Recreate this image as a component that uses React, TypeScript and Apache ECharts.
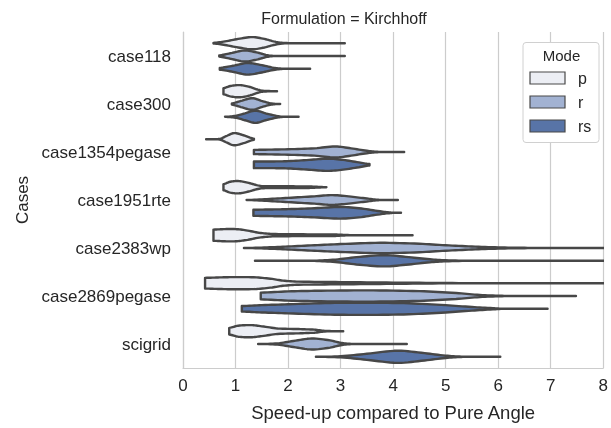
import React, { useEffect, useRef } from "react";
import * as echarts from "echarts";

const categories = ["case118", "case300", "case1354pegase", "case1951rte", "case2383wp", "case2869pegase", "scigrid"];
const modes = ["p", "r", "rs"];
const modeColors = ["#eceef4", "#a2b2d2", "#5874a7"];
const xTicks = [0, 1, 2, 3, 4, 5, 6, 7, 8];

// density profiles: [speed-up, relative half-width]
const pProfiles: number[][][] = [
  [[0.58, 0.05], [0.8, 0.3], [1.05, 0.7], [1.32, 1.0], [1.55, 0.7], [1.75, 0.25], [1.9, 0.05], [2.2, 0], [3.08, 0]],
  [[0.77, 0.5], [0.9, 0.85], [1.07, 1.0], [1.25, 0.75], [1.45, 0.2], [1.55, 0.05], [1.79, 0]],
  [[0.44, 0], [0.7, 0.05], [0.82, 0.5], [0.97, 1.0], [1.15, 0.65], [1.35, 0.1]],
  [[0.77, 0.5], [0.9, 0.9], [1.07, 1.0], [1.25, 0.7], [1.45, 0.25], [1.6, 0.15], [2.0, 0.15], [2.4, 0.12], [2.6, 0.05], [2.73, 0]],
  [[0.58, 0.92], [0.8, 1.0], [1.0, 1.0], [1.2, 0.8], [1.45, 0.4], [1.7, 0.2], [2.2, 0.15], [2.9, 0.12], [3.1, 0.03], [3.4, 0], [4.37, 0]],
  [[0.42, 0.88], [0.7, 0.95], [1.0, 1.0], [1.4, 0.95], [1.7, 0.7], [1.9, 0.42], [2.2, 0.25], [3.0, 0.18], [4.0, 0.1], [5.0, 0.03], [6.0, 0], [9.5, 0]],
  [[0.88, 0.55], [1.05, 0.9], [1.29, 1.0], [1.5, 0.8], [1.8, 0.45], [2.2, 0.35], [2.5, 0.25], [2.7, 0.05], [3.05, 0]],
];
const rProfiles: number[][][] = [
  [[0.69, 0.1], [0.9, 0.45], [1.17, 0.9], [1.4, 0.6], [1.6, 0.15], [1.75, 0], [3.08, 0]],
  [[0.93, 0.1], [1.1, 0.5], [1.32, 0.95], [1.5, 0.5], [1.68, 0.1], [1.85, 0]],
  [[1.35, 0.35], [1.5, 0.37], [2.0, 0.45], [2.5, 0.6], [2.9, 0.9], [3.2, 0.6], [3.5, 0.2], [3.7, 0.03], [3.9, 0], [4.21, 0]],
  [[1.21, 0], [1.6, 0.15], [2.0, 0.35], [2.5, 0.6], [2.85, 0.8], [3.2, 0.55], [3.5, 0.25], [3.7, 0.05], [3.85, 0], [4.09, 0]],
  [[1.16, 0], [1.6, 0.1], [2.0, 0.25], [2.5, 0.45], [3.0, 0.65], [3.75, 0.85], [4.5, 0.7], [5.0, 0.45], [5.5, 0.25], [6.0, 0.1], [6.5, 0.03], [7.0, 0], [9.5, 0]],
  [[1.48, 0.55], [2.0, 0.75], [2.5, 0.85], [3.5, 0.92], [4.5, 0.8], [5.2, 0.5], [5.6, 0.2], [6.0, 0.05], [6.3, 0], [7.48, 0]],
  [[1.43, 0], [1.8, 0.1], [2.1, 0.5], [2.45, 0.9], [2.8, 0.6], [3.0, 0.2], [3.2, 0.02], [3.4, 0], [4.26, 0]],
];
const rsProfiles: number[][][] = [
  [[0.7, 0.15], [0.95, 0.5], [1.23, 0.95], [1.5, 0.6], [1.75, 0.15], [1.95, 0], [2.42, 0]],
  [[0.8, 0], [1.0, 0.15], [1.15, 0.5], [1.38, 1.0], [1.6, 0.5], [1.82, 0.1], [1.95, 0], [2.2, 0]],
  [[1.35, 0.55], [1.7, 0.55], [2.0, 0.6], [2.4, 0.8], [2.75, 1.0], [3.05, 0.8], [3.35, 0.4], [3.55, 0.12]],
  [[1.34, 0.5], [1.7, 0.55], [2.0, 0.6], [2.5, 0.75], [3.0, 0.95], [3.4, 0.7], [3.75, 0.25], [3.95, 0.05], [4.05, 0], [4.15, 0]],
  [[1.37, 0], [2.5, 0.02], [2.9, 0.2], [3.3, 0.6], [3.83, 0.92], [4.3, 0.6], [4.7, 0.25], [5.0, 0.08], [5.5, 0], [9.5, 0]],
  [[1.12, 0.45], [1.5, 0.6], [2.0, 0.75], [2.8, 0.95], [3.5, 1.0], [4.3, 0.9], [5.0, 0.6], [5.5, 0.3], [5.9, 0.1], [6.1, 0], [6.94, 0]],
  [[2.53, 0], [3.0, 0.1], [3.5, 0.5], [4.09, 1.0], [4.6, 0.6], [5.0, 0.2], [5.3, 0.03], [5.5, 0], [6.04, 0]],
];
const allProfiles = [pProfiles, rProfiles, rsProfiles];

const TEXT = "#262626";
const FONT = "Liberation Sans, Arial, sans-serif";

function smoothProfile(prof: number[][]): number[][] {
  const out: number[][] = [];
  const n = prof.length;
  for (let i = 0; i < n - 1; i++) {
    const p0 = prof[Math.max(0, i - 1)];
    const p1 = prof[i];
    const p2 = prof[i + 1];
    const p3 = prof[Math.min(n - 1, i + 2)];
    const steps = 8;
    for (let s = 0; s < steps; s++) {
      const t = s / steps;
      const x = p1[0] + (p2[0] - p1[0]) * t;
      const t2 = t * t, t3 = t2 * t;
      let w = 0.5 * (2 * p1[1] + (-p0[1] + p2[1]) * t + (2 * p0[1] - 5 * p1[1] + 4 * p2[1] - p3[1]) * t2 + (-p0[1] + 3 * p1[1] - 3 * p2[1] + p3[1]) * t3);
      if (p1[1] === 0 && p2[1] === 0) w = 0;
      w = Math.max(0, Math.min(1.05, w));
      out.push([x, w]);
    }
  }
  out.push(prof[n - 1]);
  return out;
}

export default function App() {
  const ref = useRef<HTMLDivElement>(null);
  useEffect(() => {
    if (!ref.current) return;
    const chart = echarts.init(ref.current, null, { renderer: "svg" });
    const series = modes.map((m, mi) => ({
      type: "custom",
      name: m,
      clip: true,
      data: categories.map((_, ci) => [ci]),
      renderItem: (params: any, api: any) => {
        const ci = params.dataIndex;
        const prof = smoothProfile(allProfiles[mi][ci]);
        const band = api.size([0, 1])[1];
        const slot = (band * 0.8) / 3;
        const offset = (mi - 1) * slot;
        const half = slot / 2 - 0.3;
        const top: number[][] = [];
        const bottom: number[][] = [];
        prof.forEach(([x, w]) => {
          const c = api.coord([x, ci]);
          const cy = c[1] + offset;
          top.push([c[0], cy - w * half]);
          bottom.push([c[0], cy + w * half]);
        });
        const pts = top.concat(bottom.reverse());
        return {
          type: "polygon",
          shape: { points: pts },
          style: { fill: modeColors[mi], stroke: "#474747", lineWidth: 2.4, lineJoin: "round" },
        };
      },
    }));
    const legendItems: any[] = [];
    modes.forEach((m, i) => {
      legendItems.push({
        type: "rect",
        shape: { x: 530, y: 72 + i * 24, width: 35, height: 12 },
        style: { fill: modeColors[i], stroke: "#494949", lineWidth: 1.2 },
      });
      legendItems.push({
        type: "text",
        style: { x: 578, y: 78 + i * 24, text: m, font: `16px ${FONT}`, fill: TEXT, verticalAlign: "middle", align: "left" },
      });
    });
    chart.setOption({
      animation: false,
      title: {
        text: "Formulation = Kirchhoff",
        left: 339,
        top: 5,
        textAlign: "center",
        textStyle: { fontFamily: FONT, fontSize: 16, fontWeight: "normal", color: TEXT },
      },
      grid: { left: 183, right: 3, top: 32, bottom: 60, containLabel: false },
      xAxis: {
        type: "value",
        min: 0,
        max: 8,
        interval: 1,
        data: xTicks,
        name: "Speed-up compared to Pure Angle",
        nameLocation: "middle",
        nameGap: 35,
        nameTextStyle: { fontFamily: FONT, fontSize: 18.5, color: TEXT },
        axisLine: { show: true, lineStyle: { color: "#cccccc", width: 1.2 } },
        axisTick: { show: false },
        axisLabel: { fontFamily: FONT, fontSize: 17, color: TEXT, margin: 9 },
        splitLine: { show: true, lineStyle: { color: "#cccccc", width: 1.2 } },
      },
      yAxis: {
        type: "category",
        data: categories,
        inverse: true,
        name: "Cases",
        nameLocation: "middle",
        nameGap: 152,
        nameRotate: 90,
        nameTextStyle: { fontFamily: FONT, fontSize: 17, color: TEXT },
        axisLine: { show: true, lineStyle: { color: "#cccccc", width: 1.2 } },
        axisTick: { show: false },
        axisLabel: { fontFamily: FONT, fontSize: 17, color: TEXT, margin: 12 },
        splitLine: { show: false },
      },
      series,
      graphic: [
        {
          type: "rect",
          shape: { x: 523, y: 42.5, width: 76, height: 100, r: 3 },
          style: { fill: "#ffffff", stroke: "#d0d0d0", lineWidth: 1 },
          z: 100,
        },
        {
          type: "text",
          style: { x: 561.5, y: 55, text: "Mode", font: `15px ${FONT}`, fill: TEXT, align: "center", verticalAlign: "middle" },
          z: 101,
        },
        ...legendItems.map((g) => ({ ...g, z: 101 })),
      ],
    });
    return () => chart.dispose();
  }, []);
  return <div ref={ref} style={{ position: "fixed", left: 0, top: 0, width: 611, height: 428 }} />;
}
